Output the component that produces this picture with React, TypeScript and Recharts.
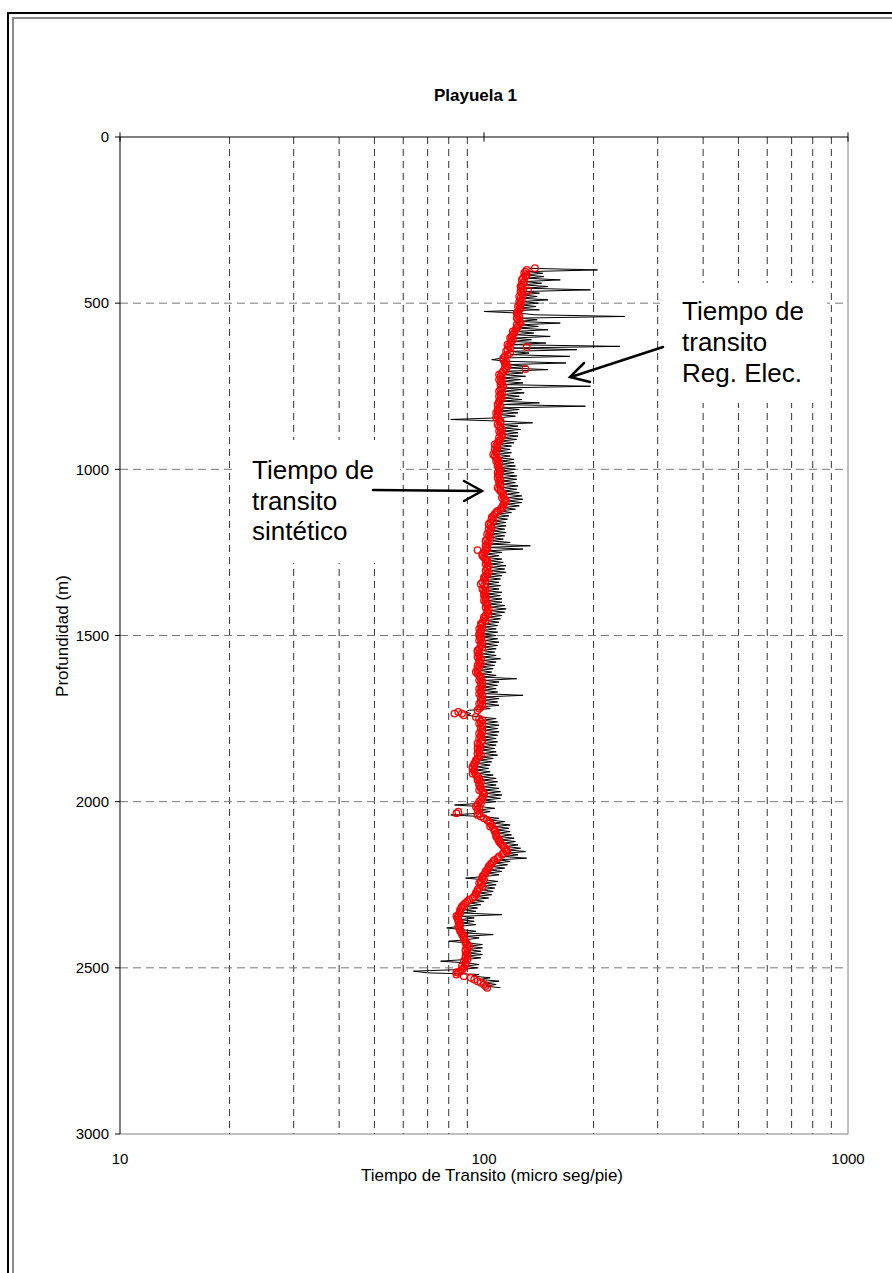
import React from 'react';
import { ScatterChart, Scatter, XAxis, YAxis, CartesianGrid, ReferenceLine } from 'recharts';

const FONT = '"Liberation Sans", Arial, Helvetica, sans-serif';

// axis ticks
const X_TICKS = [10, 20, 30, 40, 50, 60, 70, 80, 90, 100, 200, 300, 400, 500, 600, 700, 800, 900, 1000];
const X_LABELLED = [10, 100, 1000];
const X_GRID = [20, 30, 40, 50, 60, 70, 80, 90, 200, 300, 400, 500, 600, 700, 800, 900];
const Y_TICKS = [0, 500, 1000, 1500, 2000, 2500, 3000];
const Y_GRID = [500, 1000, 1500, 2000, 2500];

// electric log transit time: [depth m, micro seg/pie]
const elecA: [number, number][] = [
  [395, 133], [400, 205], [405, 132], [410, 145], [415, 130], [420, 146], [425, 131], [430, 162], [435, 129], [440, 144],
  [445, 128], [450, 150], [455, 130], [460, 196], [465, 128], [470, 142], [475, 127], [480, 140], [485, 126], [490, 150], [495, 127],
  [500, 141], [505, 126], [510, 139], [515, 124], [520, 142], [525, 100], [530, 125], [535, 138], [540, 244], [545, 125],
  [550, 140], [555, 124], [560, 162], [565, 126], [570, 141], [575, 123], [580, 150], [585, 122], [590, 137], [595, 121],
  [600, 152], [605, 120], [610, 135], [615, 119], [620, 148], [625, 118], [630, 236], [635, 120], [640, 180], [645, 117],
  [650, 133], [655, 119], [660, 172], [665, 113], [670, 105], [675, 116], [680, 168], [685, 115], [690, 132], [695, 117],
  [700, 150], [705, 114], [710, 128], [715, 112], [720, 130], [725, 111], [730, 126], [735, 112], [740, 128], [745, 113],
  [750, 196], [755, 113], [760, 127], [765, 112], [770, 129], [775, 111], [780, 125], [785, 112], [790, 127], [795, 111],
  [800, 142], [805, 111], [810, 190], [815, 112], [820, 125], [825, 110], [830, 124], [835, 109], [840, 122], [845, 110],
  [850, 81], [855, 112], [860, 136], [865, 111], [870, 124], [875, 112], [880, 126], [885, 113], [890, 124], [895, 112],
  [900, 124], [905, 112], [910, 123], [915, 110], [920, 121], [925, 109], [930, 119], [935, 108], [940, 118], [945, 108],
  [950, 119], [955, 108], [960, 118], [965, 109], [970, 121], [975, 111], [980, 121], [985, 110], [990, 122], [995, 110],
];

const elecB: [number, number][] = [
  [1000, 122], [1005, 111], [1010, 121], [1015, 111], [1020, 123], [1025, 112], [1030, 123], [1035, 112], [1040, 122], [1045, 112],
  [1050, 124], [1055, 112], [1060, 123], [1065, 113], [1070, 125], [1075, 115], [1080, 127], [1085, 116], [1090, 128], [1095, 116],
  [1100, 127], [1105, 115], [1110, 125], [1115, 113], [1120, 122], [1125, 110], [1130, 119], [1135, 108], [1140, 117], [1145, 107],
  [1150, 116], [1155, 106], [1160, 115], [1165, 105], [1170, 115], [1175, 105], [1180, 114], [1185, 105], [1190, 115], [1195, 104],
  [1200, 114], [1205, 104], [1210, 113], [1215, 104], [1220, 118], [1225, 103], [1230, 134], [1235, 102], [1240, 128], [1245, 102],
  [1250, 112], [1255, 101], [1260, 110], [1265, 101], [1270, 112], [1275, 103], [1280, 113], [1285, 104], [1290, 115], [1295, 104],
  [1300, 114], [1305, 104], [1310, 115], [1315, 103], [1320, 112], [1325, 101], [1330, 111], [1335, 100], [1340, 110], [1345, 101],
  [1350, 111], [1355, 100], [1360, 110], [1365, 101], [1370, 112], [1375, 102], [1380, 111], [1385, 101], [1390, 112], [1395, 102],
  [1400, 112], [1405, 103], [1410, 114], [1415, 104], [1420, 115], [1425, 104], [1430, 114], [1435, 103], [1440, 112], [1445, 102],
  [1450, 111], [1455, 101], [1460, 110], [1465, 100], [1470, 109], [1475, 99], [1480, 108], [1485, 98], [1490, 109], [1495, 99],
];

const elecC: [number, number][] = [
  [1500, 108], [1505, 99], [1510, 109], [1515, 100], [1520, 110], [1525, 100], [1530, 109], [1535, 99], [1540, 108], [1545, 98],
  [1550, 107], [1555, 98], [1560, 108], [1565, 99], [1570, 111], [1575, 99], [1580, 108], [1585, 98], [1590, 107], [1595, 97],
  [1600, 106], [1605, 97], [1610, 105], [1615, 98], [1620, 108], [1625, 99], [1630, 123], [1635, 100], [1640, 110], [1645, 100],
  [1650, 109], [1655, 99], [1660, 108], [1665, 99], [1670, 109], [1675, 100], [1680, 128], [1685, 100], [1690, 110], [1695, 99],
  [1700, 109], [1705, 100], [1710, 110], [1715, 98], [1720, 104], [1725, 91], [1730, 89], [1735, 92], [1740, 90], [1745, 97],
  [1750, 108], [1755, 99], [1760, 109], [1765, 100], [1770, 110], [1775, 100], [1780, 109], [1785, 100], [1790, 110], [1795, 100],
  [1800, 109], [1805, 99], [1810, 108], [1815, 99], [1820, 109], [1825, 99], [1830, 108], [1835, 98], [1840, 107], [1845, 98],
  [1850, 108], [1855, 99], [1860, 109], [1865, 98], [1870, 106], [1875, 97], [1880, 105], [1885, 96], [1890, 104], [1895, 95],
  [1900, 103], [1905, 95], [1910, 104], [1915, 96], [1920, 106], [1925, 98], [1930, 108], [1935, 99], [1940, 109], [1945, 99],
  [1950, 108], [1955, 99], [1960, 110], [1965, 100], [1970, 111], [1975, 101], [1980, 112], [1985, 101], [1990, 111], [1995, 100],
];

const elecD: [number, number][] = [
  [2000, 108], [2005, 98], [2010, 83], [2015, 98], [2020, 107], [2025, 96], [2030, 104], [2035, 97], [2040, 81], [2045, 99],
  [2050, 110], [2055, 103], [2060, 114], [2065, 106], [2070, 118], [2075, 107], [2080, 117], [2085, 108], [2090, 118], [2095, 109],
  [2100, 119], [2105, 110], [2110, 121], [2115, 111], [2120, 122], [2125, 113], [2130, 124], [2135, 115], [2140, 126], [2145, 116],
  [2150, 130], [2155, 116], [2160, 124], [2165, 113], [2170, 131], [2175, 110], [2180, 118], [2185, 107], [2190, 116], [2195, 105],
  [2200, 114], [2205, 103], [2210, 112], [2215, 102], [2220, 110], [2225, 101], [2230, 89], [2235, 100], [2240, 109], [2245, 99],
  [2250, 108], [2255, 99], [2260, 107], [2265, 98], [2270, 106], [2275, 97], [2280, 105], [2285, 95], [2290, 103], [2295, 93],
  [2300, 100], [2305, 91], [2310, 98], [2315, 89], [2320, 96], [2325, 88], [2330, 95], [2335, 87], [2340, 112], [2345, 87],
  [2350, 94], [2355, 86], [2360, 94], [2365, 87], [2370, 95], [2375, 86], [2380, 79], [2385, 87], [2390, 95], [2395, 88],
  [2400, 106], [2405, 89], [2410, 97], [2415, 90], [2420, 80], [2425, 90], [2430, 99], [2435, 91], [2440, 99], [2445, 90],
  [2450, 98], [2455, 90], [2460, 99], [2465, 89], [2470, 98], [2475, 89], [2480, 76], [2485, 89], [2490, 97], [2495, 88],
  [2500, 96], [2505, 87], [2510, 64], [2515, 70], [2520, 97], [2525, 93], [2530, 104], [2535, 97], [2540, 110], [2545, 100],
  [2550, 108], [2555, 101], [2560, 111],
];

// synthetic transit time: [depth m, micro seg/pie]
const synthA: [number, number][] = [
  [400, 131], [405, 130], [410, 129], [415, 131], [420, 130], [425, 128], [430, 127], [435, 129], [440, 128], [445, 127],
  [450, 126], [455, 127], [460, 128], [465, 126], [470, 127], [475, 128], [480, 125], [485, 126], [490, 127], [495, 125],
  [500, 126], [505, 125], [510, 124], [515, 126], [520, 125], [525, 124], [530, 123], [535, 124], [540, 125], [545, 123],
  [550, 124], [555, 125], [560, 126], [565, 123], [570, 124], [575, 123], [580, 122], [585, 120], [590, 121], [595, 120],
  [600, 119], [605, 118], [610, 120], [615, 119], [620, 118], [625, 116], [630, 117], [635, 118], [640, 116], [645, 115],
  [650, 118], [655, 116], [660, 114], [665, 113], [670, 113], [675, 115], [680, 114], [685, 115], [690, 116], [695, 114],
  [700, 115], [705, 113], [710, 112], [715, 110], [720, 111], [725, 112], [730, 110], [735, 111], [740, 112], [745, 111],
  [750, 113], [755, 112], [760, 111], [765, 110], [770, 112], [775, 111], [780, 110], [785, 112], [790, 111], [795, 110],
  [800, 110], [805, 109], [810, 111], [815, 110], [820, 109], [825, 110], [830, 108], [835, 109], [840, 109], [845, 108],
  [850, 110], [855, 111], [860, 111], [865, 109], [870, 110], [875, 111], [880, 112], [885, 110], [890, 111], [895, 112],
  [900, 112], [905, 110], [910, 111], [915, 110], [920, 109], [925, 107], [930, 108], [935, 109], [940, 107], [945, 108],
  [950, 108], [955, 106], [960, 107], [965, 108], [970, 109], [975, 108], [980, 110], [985, 109], [990, 109], [995, 110],
];

const synthB: [number, number][] = [
  [1000, 110], [1005, 111], [1010, 109], [1015, 110], [1020, 110], [1025, 109], [1030, 111], [1035, 110], [1040, 110], [1045, 111],
  [1050, 111], [1055, 109], [1060, 110], [1065, 111], [1070, 112], [1075, 113], [1080, 113], [1085, 112], [1090, 114], [1095, 115],
  [1100, 114], [1105, 113], [1110, 113], [1115, 112], [1120, 111], [1125, 109], [1130, 108], [1135, 107], [1140, 106], [1145, 105],
  [1150, 105], [1155, 106], [1160, 104], [1165, 103], [1170, 104], [1175, 105], [1180, 103], [1185, 104], [1190, 104], [1195, 102],
  [1200, 103], [1205, 104], [1210, 102], [1215, 101], [1220, 103], [1225, 102], [1230, 101], [1235, 102], [1240, 102], [1245, 101],
  [1250, 100], [1255, 99], [1260, 99], [1265, 100], [1270, 101], [1275, 102], [1280, 102], [1285, 101], [1290, 103], [1295, 102],
  [1300, 102], [1305, 101], [1310, 103], [1315, 102], [1320, 101], [1325, 100], [1330, 100], [1335, 101], [1340, 99], [1345, 98],
  [1350, 100], [1355, 101], [1360, 99], [1365, 100], [1370, 101], [1375, 100], [1380, 100], [1385, 101], [1390, 101], [1395, 100],
  [1400, 101], [1405, 102], [1410, 102], [1415, 101], [1420, 103], [1425, 102], [1430, 102], [1435, 103], [1440, 101], [1445, 100],
  [1450, 100], [1455, 101], [1460, 99], [1465, 98], [1470, 98], [1475, 99], [1480, 97], [1485, 98], [1490, 98], [1495, 97],
];

const synthC: [number, number][] = [
  [1500, 97], [1505, 98], [1510, 98], [1515, 97], [1520, 99], [1525, 98], [1530, 98], [1535, 99], [1540, 97], [1545, 96],
  [1550, 96], [1555, 97], [1560, 97], [1565, 96], [1570, 98], [1575, 97], [1580, 97], [1585, 98], [1590, 96], [1595, 97],
  [1600, 96], [1605, 96], [1610, 95], [1615, 96], [1620, 97], [1625, 98], [1630, 98], [1635, 97], [1640, 99], [1645, 98],
  [1650, 98], [1655, 99], [1660, 97], [1665, 98], [1670, 98], [1675, 97], [1680, 99], [1685, 98], [1690, 98], [1695, 99],
  [1700, 98], [1705, 97], [1710, 99], [1715, 98], [1720, 97], [1725, 96], [1730, 85], [1735, 87], [1740, 88], [1745, 95],
  [1750, 97], [1755, 99], [1760, 98], [1765, 97], [1770, 99], [1775, 98], [1780, 98], [1785, 99], [1790, 99], [1795, 97],
  [1800, 98], [1805, 98], [1810, 97], [1815, 99], [1820, 98], [1825, 96], [1830, 97], [1835, 98], [1840, 96], [1845, 97],
  [1850, 97], [1855, 96], [1860, 98], [1865, 97], [1870, 96], [1875, 95], [1880, 95], [1885, 94], [1890, 94], [1895, 93],
  [1900, 93], [1905, 94], [1910, 94], [1915, 93], [1920, 95], [1925, 96], [1930, 97], [1935, 96], [1940, 98], [1945, 97],
  [1950, 97], [1955, 98], [1960, 98], [1965, 97], [1970, 99], [1975, 100], [1980, 100], [1985, 99], [1990, 99], [1995, 98],
];

const synthD: [number, number][] = [
  [2000, 97], [2005, 98], [2010, 96], [2015, 95], [2020, 97], [2025, 96], [2030, 85], [2035, 97], [2040, 96], [2045, 98],
  [2050, 100], [2055, 102], [2060, 103], [2065, 104], [2070, 105], [2075, 104], [2080, 106], [2085, 107], [2090, 107], [2095, 108],
  [2100, 108], [2105, 108], [2110, 109], [2115, 110], [2120, 110], [2125, 111], [2130, 112], [2135, 113], [2140, 114], [2145, 115],
  [2150, 115], [2155, 113], [2160, 112], [2165, 110], [2170, 109], [2175, 107], [2180, 106], [2185, 105], [2190, 104], [2195, 103],
  [2200, 103], [2205, 102], [2210, 101], [2215, 101], [2220, 100], [2225, 99], [2230, 99], [2235, 100], [2240, 98], [2245, 97],
  [2250, 98], [2255, 99], [2260, 97], [2265, 96], [2270, 96], [2275, 95], [2280, 95], [2285, 94], [2290, 93], [2295, 91],
  [2300, 90], [2305, 89], [2310, 88], [2315, 87], [2320, 87], [2325, 86], [2330, 86], [2335, 86], [2340, 85], [2345, 84],
  [2350, 84.5], [2355, 85], [2360, 85], [2365, 86], [2370, 86], [2375, 85], [2380, 85.5], [2385, 86], [2390, 86], [2395, 87],
  [2400, 87], [2405, 88], [2410, 88], [2415, 88], [2420, 89], [2425, 89], [2430, 90], [2435, 91], [2440, 90], [2445, 89],
  [2450, 89], [2455, 90], [2460, 90], [2465, 89], [2470, 89], [2475, 90], [2480, 88], [2485, 89], [2490, 89], [2495, 87],
  [2500, 88], [2505, 87], [2510, 86], [2515, 85], [2520, 84], [2525, 88], [2530, 92], [2535, 94], [2540, 96], [2545, 98],
  [2550, 100], [2555, 101], [2560, 102],
];

const synthOutliers: [number, number][] = [
  [395, 138], [462, 132], [632, 131], [698, 130], [1243, 96], [1735, 83], [2035, 84], [2150, 116], [2513, 84],
];

const toPoints = (rows: [number, number][]) =>
  [...rows].sort((a, b) => a[0] - b[0]).map(([d, t]) => ({ d, t }));

const elecData = toPoints([...elecA, ...elecB, ...elecC, ...elecD]);
const synthData = toPoints([...synthA, ...synthB, ...synthC, ...synthD, ...synthOutliers]);

const NoMark = () => <g />;

const RedRing = (props: any) => {
  const { cx, cy } = props;
  if (cx == null || cy == null) return <g />;
  return <circle cx={cx} cy={cy} r={3.3} fill="none" stroke="#ff0000" strokeWidth={1.3} />;
};

export default function App() {
  const tickStyle = { fill: '#000', fontSize: 15, fontFamily: FONT };

  return (
    <div
      style={{
        position: 'absolute',
        left: 0,
        top: 0,
        width: 892,
        height: 1273,
        overflow: 'hidden',
        background: '#fff',
        fontFamily: FONT,
      }}
    >
      {/* page frame */}
      <div style={{ position: 'absolute', left: 7, top: 12, width: 1000, height: 1400, borderLeft: '2px solid #000', borderTop: '2px solid #000' }} />
      <div style={{ position: 'absolute', left: 12, top: 17, width: 1000, height: 1400, borderLeft: '2px solid #8a8a8a', borderTop: '2px solid #8a8a8a' }} />

      <div style={{ position: 'absolute', left: 0, top: 0 }}>
        <ScatterChart width={892} height={1273} margin={{ top: 137, right: 44, bottom: 109, left: 60 }}>
          <CartesianGrid
            horizontal={false}
            verticalValues={X_GRID}
            stroke="#333"
            strokeDasharray="7 5"
          />
          <CartesianGrid
            vertical={false}
            horizontalValues={Y_GRID}
            stroke="#777"
            strokeDasharray="8 5"
          />
          <XAxis
            type="number"
            dataKey="t"
            scale="log"
            domain={[10, 1000]}
            allowDataOverflow
            ticks={X_TICKS}
            interval={0}
            tickFormatter={(v: number) => (X_LABELLED.includes(v) ? String(v) : '')}
            tickLine={false}
            tickMargin={13}
            axisLine={{ stroke: '#808080' }}
            tick={tickStyle}
            height={30}
          />
          <YAxis
            type="number"
            dataKey="d"
            reversed
            domain={[0, 3000]}
            ticks={Y_TICKS}
            interval={0}
            width={60}
            tickSize={5}
            tickMargin={6}
            axisLine={{ stroke: '#000' }}
            tickLine={{ stroke: '#000' }}
            tick={tickStyle}
          />
          <ReferenceLine x={1000} stroke="#808080" strokeWidth={1} />
          <ReferenceLine y={0} stroke="#000" strokeWidth={1} />
          {X_LABELLED.map((v) => (
            <ReferenceLine
              key={v}
              ifOverflow="visible"
              segment={[{ x: v, y: -14 }, { x: v, y: 14 }]}
              stroke="#000"
              strokeWidth={1}
            />
          ))}
          <Scatter
            name="Tiempo de transito Reg. Elec."
            data={elecData}
            line={{ stroke: '#000', strokeWidth: 1 }}
            shape={NoMark}
            isAnimationActive={false}
          />
          <Scatter
            name="Tiempo de transito sintético"
            data={synthData}
            shape={RedRing}
            isAnimationActive={false}
          />
        </ScatterChart>
      </div>

      {/* titles, annotations */}
      <svg
        width={892}
        height={1273}
        style={{ position: 'absolute', left: 0, top: 0, pointerEvents: 'none' }}
        fontFamily={FONT}
      >
        <text x={475.5} y={101} textAnchor="middle" fontSize={17} fontWeight="bold" fill="#000">
          Playuela 1
        </text>
        <text x={492} y={1181} textAnchor="middle" fontSize={17} fill="#000">
          Tiempo de Transito (micro seg/pie)
        </text>
        <text
          x={62}
          y={636}
          textAnchor="middle"
          dominantBaseline="central"
          fontSize={17}
          fill="#000"
          transform="rotate(-90 62 636)"
        >
          Profundidad (m)
        </text>

        <rect x={660} y={283} width={167} height={120} fill="#fff" />
        <text fontSize={26} fill="#000">
          <tspan x={682} y={320}>Tiempo de</tspan>
          <tspan x={682} y={351}>transito</tspan>
          <tspan x={682} y={382}>Reg. Elec.</tspan>
        </text>

        <rect x={233} y={440} width={167} height={123} fill="#fff" />
        <text fontSize={26} fill="#000">
          <tspan x={252} y={479}>Tiempo de</tspan>
          <tspan x={252} y={510}>transito</tspan>
          <tspan x={252} y={540}>sintético</tspan>
        </text>

        <g stroke="#000" strokeWidth={2.5} fill="none" strokeLinecap="round">
          <line x1={663} y1={347} x2={571} y2={377} />
          <polyline points="584,363 570,377 590,382" />
          <line x1={373} y1={490} x2={481} y2={491} />
          <polyline points="464,481 482,491 464,501" />
        </g>
      </svg>
    </div>
  );
}
